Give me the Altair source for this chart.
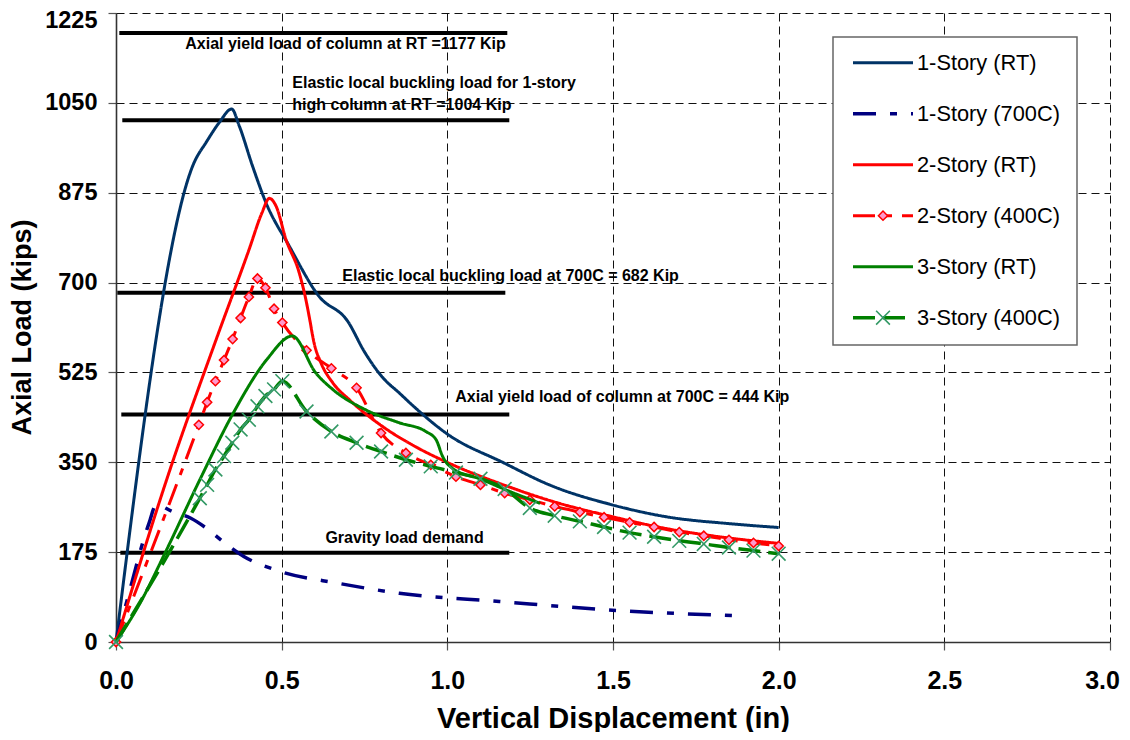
import altair as alt
import pandas as pd

# ---------------- data ----------------
series_names = ["1-Story (RT)", "1-Story (700C)", "2-Story (RT)",
                "2-Story (400C)", "3-Story (RT)", "3-Story (400C)"]

s1_rt_x = [0, 0.236, 0.272, 0.312, 0.349, 0.372, 0.412, 0.453, 0.523, 0.613, 0.699,
           0.75, 0.805, 0.855, 0.9, 1.0, 1.17, 1.308, 1.498, 1.66, 1.86, 2.0]
s1_rt_y = [0, 934, 973, 1012, 1038, 1005, 927, 855, 771, 673, 625,
           565, 515, 485, 458, 405, 349, 306, 267, 244, 230, 223]

s1_700_x = [0, 0.05, 0.08, 0.10, 0.121, 0.171, 0.226, 0.272, 0.322, 0.387, 0.483,
            0.674, 0.855, 1.157, 1.498, 1.876]
s1_700_y = [0, 121, 192, 232, 267, 254, 241, 222, 196, 166, 140,
            114, 95, 79, 62, 51]

s2_rt_x = [0, 0.16, 0.30, 0.402, 0.44, 0.463, 0.483, 0.513, 0.553, 0.573, 0.583, 0.598,
           0.619, 0.654, 0.704, 0.804, 0.905, 1.006, 1.157, 1.338, 1.498, 1.66, 1.82, 2.0]
s2_rt_y = [0, 330, 585, 765, 835, 864, 849, 784, 719, 667, 634, 582,
           543, 505, 472, 420, 380, 348, 309, 270, 244, 221, 205, 192]

s2_400_x = [0, 0.25, 0.275, 0.30, 0.326, 0.352, 0.376, 0.401, 0.427, 0.451, 0.477, 0.502,
            0.575, 0.65, 0.726, 0.80, 0.875, 0.95, 1.026, 1.1, 1.173, 1.249, 1.324, 1.4,
            1.473, 1.55, 1.624, 1.70, 1.774, 1.85, 1.924, 2.0]
s2_400_y = [0, 423, 467, 508, 549, 590, 631, 672, 708, 690, 649, 622,
            568, 533, 495, 407, 368, 345, 322, 306, 290, 277, 264, 253,
            243, 233, 224, 214, 207, 199, 193, 187]

s3_rt_x = [0, 0.072, 0.153, 0.253, 0.354, 0.455, 0.532, 0.603, 0.654, 0.754, 0.855,
           0.935, 0.966, 0.986, 1.016, 1.106, 1.167, 1.28]
s3_rt_y = [0, 75, 180, 316, 446, 550, 596, 524, 492, 452, 427,
           410, 394, 361, 338, 316, 299, 270]

s3_400_x = [0, 0.253, 0.275, 0.30, 0.326, 0.351, 0.376, 0.401, 0.427, 0.451, 0.477, 0.502,
            0.575, 0.65, 0.726, 0.80, 0.875, 0.95, 1.026, 1.1, 1.173, 1.249, 1.324, 1.4,
            1.473, 1.55, 1.624, 1.70, 1.774, 1.85, 1.924, 2.0]
s3_400_y = [0, 280, 306, 336, 362, 388, 414, 433, 459, 479, 492, 508,
            449, 410, 388, 371, 355, 342, 330, 318, 298, 261, 246, 235,
            224, 213, 205, 197, 191, 184, 178, 172]

# horizontal reference lines (as drawn) and their labels
ref_y = [1186, 1016, 680, 443, 174]
ref_x1 = [0.010, 0.019, 0.004, 0.016, 0.013]
ref_x2 = [1.181, 1.187, 1.175, 1.187, 1.187]

ann_text = ["Axial yield load of column at RT =1177 Kip",
            "Elastic local buckling load for 1-story",
            "high column at RT =1004 Kip",
            "Elastic local buckling load at 700C = 682 Kip",
            "Axial yield load of column at 700C = 444 Kip",
            "Gravity load demand"]
ann_x = [0.209, 0.532, 0.532, 0.683, 1.024, 0.632]
ann_y = [1165, 1089, 1046, 712, 478, 203]

x_ticks = [0.0, 0.5, 1.0, 1.5, 2.0, 2.5, 3.0]
y_ticks = [0, 175, 350, 525, 700, 875, 1050, 1225]

colors = ["#003366", "#000080", "#FF0000", "#FF0000", "#008000", "#008000"]
dashes = [[1, 0], [23, 14, 7, 14], [1, 0], [22, 10, 7, 10], [1, 0], [22, 8]]
widths = [3, 3.5, 3, 3, 3, 3.5]

FONT = "Liberation Sans"

# ---------------- scales / axes ----------------
xs = alt.Scale(domain=[0, 3], nice=False)
ys = alt.Scale(domain=[0, 1225], nice=False)

x_axis = alt.Axis(values=x_ticks, format=".1f", title="Vertical Displacement (in)",
                  labelFont=FONT, labelFontSize=25, labelFontWeight="bold", labelColor="#000",
                  labelPadding=18, labelFlush=False, tickSize=8, tickColor="#555",
                  labelOffset={"condition": {"test": "datum.value === 3", "value": -8},
                               "value": 0},
                  tickWidth=1.2, domainColor="#333", domainWidth=1.6,
                  grid=True, gridColor="#111", gridDash=[8, 5], gridWidth=1,
                  titleFont=FONT, titleFontSize=29, titleFontWeight="bold", titleColor="#000",
                  titleY=85, titleBaseline="alphabetic")
y_axis = alt.Axis(values=y_ticks, format="d", title="Axial Load (kips)",
                  labelFont=FONT, labelFontSize=23.5, labelFontWeight="bold", labelColor="#000",
                  labelPadding=11, labelFlush=False, tickSize=8, tickColor="#555",
                  tickWidth=1.2,
                  labelOffset={"condition": {"test": "datum.value === 1225", "value": 7},
                               "value": 0},
                  domainColor="#333", domainWidth=1.6,
                  grid=True, gridColor="#111", gridDash=[8, 5], gridWidth=1,
                  titleFont=FONT, titleFontSize=27, titleFontWeight="bold", titleColor="#000",
                  titleX=-86, titleY=314, titleAngle=270, titleAlign="center",
                  titleBaseline="alphabetic")

X = lambda f="x": alt.X(f"{f}:Q", scale=xs, axis=x_axis)
Y = lambda f="y": alt.Y(f"{f}:Q", scale=ys, axis=y_axis)

# ---------------- layers ----------------
ref_df = pd.DataFrame({"x": ref_x1, "x2": ref_x2, "y": ref_y})
ref_layer = alt.Chart(ref_df).mark_rule(color="#000", strokeWidth=4).encode(
    x=X(), x2="x2:Q", y=Y())

ann_df = pd.DataFrame({"x": ann_x, "y": ann_y, "t": ann_text})
ann_layer = alt.Chart(ann_df).mark_text(align="left", baseline="middle", font=FONT,
                                        fontSize=16, fontWeight="bold", color="#000").encode(
    x=X(), y=Y(), text="t:N")

series_xy = [(s1_rt_x, s1_rt_y), (s1_700_x, s1_700_y), (s2_rt_x, s2_rt_y),
             (s2_400_x, s2_400_y), (s3_rt_x, s3_rt_y), (s3_400_x, s3_400_y)]

X_SHAPE = "M-1,-1L1,1M-1,1L1,-1"

layers = [ref_layer, ann_layer]
for i, (sx, sy) in enumerate(series_xy):
    df = pd.DataFrame({"x": sx, "y": sy})
    line = alt.Chart(df).mark_line(color=colors[i], strokeDash=dashes[i],
                                   strokeWidth=widths[i], interpolate="monotone").encode(
        x=X(), y=Y())
    layers.append(line)
    if series_names[i] == "2-Story (400C)":
        layers.append(alt.Chart(df).mark_point(shape="diamond", size=85, filled=True,
                                               fill="#FF99CC", stroke="#FF0000",
                                               strokeWidth=1.5, opacity=1).encode(x=X(), y=Y()))
    if series_names[i] == "3-Story (400C)":
        layers.append(alt.Chart(df).mark_point(shape=X_SHAPE, size=190, filled=False,
                                               stroke="#339966", strokeWidth=1.6,
                                               opacity=1).encode(x=X(), y=Y()))

# ---------------- legend (drawn by hand, pixel positions inside plot) ----------------
leg_df = pd.DataFrame({"name": series_names, "idx": list(range(len(series_names)))})
box = alt.Chart(pd.DataFrame({"a": [0]})).mark_rect(
    fill="white", stroke="#666", strokeWidth=1.5).encode(
    x=alt.value(717), x2=alt.value(961), y=alt.value(24), y2=alt.value(332))
layers.append(box)

for i, name in enumerate(series_names):
    sub = leg_df[leg_df["name"] == name]
    base = alt.Chart(sub).transform_calculate(ly="49.7 + 51 * datum.idx")
    layers.append(base.mark_rule(color=colors[i], strokeDash=dashes[i],
                                 strokeWidth=widths[i]).encode(
        x=alt.value(737), x2=alt.value(797), y=alt.Y("ly:Q", scale=None, axis=None)))
    if name == "2-Story (400C)":
        layers.append(base.mark_point(shape="diamond", size=85, filled=True, fill="#FF99CC",
                                      stroke="#FF0000", strokeWidth=1.5, opacity=1).encode(
            x=alt.value(767), y=alt.Y("ly:Q", scale=None, axis=None)))
    if name == "3-Story (400C)":
        layers.append(base.mark_point(shape=X_SHAPE, size=190, filled=False,
                                      stroke="#339966", strokeWidth=1.6, opacity=1).encode(
            x=alt.value(767), y=alt.Y("ly:Q", scale=None, axis=None)))
    layers.append(base.mark_text(align="left", baseline="middle", font=FONT, fontSize=21.8,
                                 color="#000").encode(
        x=alt.value(801), y=alt.Y("ly:Q", scale=None, axis=None), text="name:N"))

chart = alt.layer(*layers).properties(
    width=994, height=629,
    autosize=alt.AutoSizeParams(type="none"),
    padding={"left": 108, "top": 5, "right": 12, "bottom": 90},
    background="white",
).configure_view(stroke=None)

chart.save("out.html", embed_options={"renderer": "svg", "actions": False})
